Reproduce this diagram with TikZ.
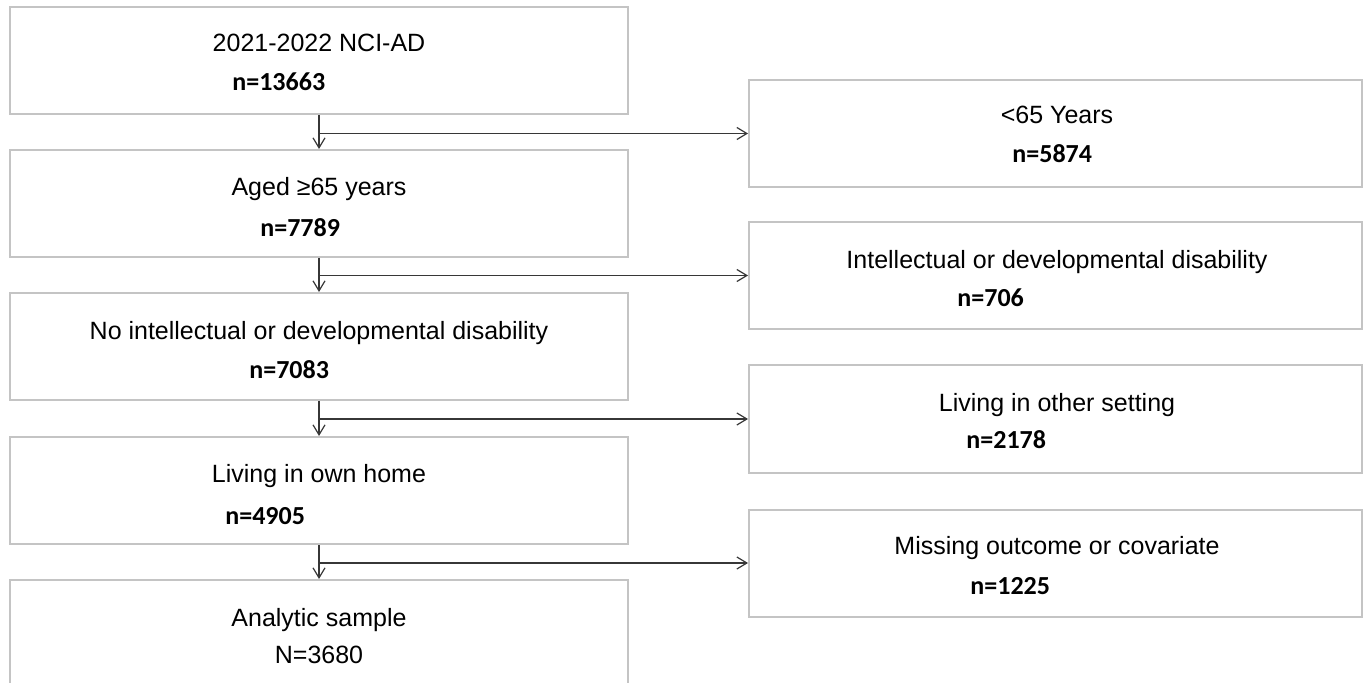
\documentclass[tikz,border=0pt]{standalone}
\usepackage{fontspec}
\setmainfont{Liberation Sans}
\newfontfamily\numfont{Carlito}
\usetikzlibrary{arrows.meta}
\definecolor{boxgray}{RGB}{196,196,196}
\definecolor{linegray}{RGB}{55,55,55}
\begin{document}
\begin{tikzpicture}[x=0.5pt,y=-0.5pt,
  box/.style={draw=boxgray,line width=1pt,fill=white,rectangle,inner sep=0pt},
  leftbox/.style={box,minimum width=309pt,minimum height=53.5pt},
  lastbox/.style={box,minimum width=309pt,minimum height=60pt},
  rightbox/.style={box,minimum width=306.5pt,minimum height=53.5pt},
  title/.style={font=\fontsize{12.5pt}{14pt}\selectfont,anchor=base,inner sep=0pt},
  count/.style={font=\numfont\bfseries\fontsize{13pt}{15pt}\selectfont,anchor=base west,inner sep=0pt},
  flow/.style={draw=linegray,line width=0.6pt,-{Straight Barb[length=5pt,width=6pt]}}
]
\useasboundingbox (0,0) rectangle (1368,683);
\clip (0,0) rectangle (1368,683);
\fill[white] (0,0) rectangle (1368,683);

% left column boxes
\node[leftbox] (b1) at (319,60.5) {};
\node[leftbox] (b2) at (319,203.5) {};
\node[leftbox] (b3) at (319,346.5) {};
\node[leftbox] (b4) at (319,490.5) {};
\node[lastbox] (b5) at (319,640) {};

% right column boxes
\node[rightbox] (r1) at (1055.5,133.5) {};
\node[rightbox] (r2) at (1055.5,275.5) {};
\node[rightbox] (r3) at (1055.5,419) {};
\node[rightbox] (r4) at (1055.5,563) {};

% left texts
\node[title] (t1) at (319,52) {2021-2022 NCI-AD};
\node[count] (n1) at (232,91) {n=13663};
\node[title] (t2) at (319,196) {Aged ≥65 years};
\node[count] (n2) at (260,237) {n=7789};
\node[title] (t3) at (319,340) {No intellectual or developmental disability};
\node[count] (n3) at (249,379) {n=7083};
\node[title] (t4) at (319,482) {Living in own home};
\node[count] (n4) at (225,524) {n=4905};
\node[title] (t5) at (319,626) {Analytic sample};
\node[title] (n5) at (319,663) {N=3680};

% right texts
\node[title] (s1) at (1057,124) {<65 Years};
\node[count] (m1) at (1012,163) {n=5874};
\node[title] (s2) at (1057,269) {Intellectual or developmental disability};
\node[count] (m2) at (957,307) {n=706};
\node[title] (s3) at (1057,411) {Living in other setting};
\node[count] (m3) at (966,448) {n=2178};
\node[title] (s4) at (1057,554) {Missing outcome or covariate};
\node[count] (m4) at (970,594) {n=1225};

% branch points
\coordinate (j1) at (b1.south |- r1.west);
\coordinate (j2) at (b2.south |- r2.west);
\coordinate (j3) at (b3.south |- r3.west);
\coordinate (j4) at (b4.south |- r4.west);

% connectors
\draw[flow] (b1.south) -- (b2.north);
\draw[flow] (b2.south) -- (b3.north);
\draw[flow] (b3.south) -- (b4.north);
\draw[flow] (b4.south) -- (b5.north);
\draw[flow] (j1) -- (r1.west);
\draw[flow] (j2) -- (r2.west);
\draw[flow] (j3) -- (r3.west);
\draw[flow] (j4) -- (r4.west);
\end{tikzpicture}
\end{document}
